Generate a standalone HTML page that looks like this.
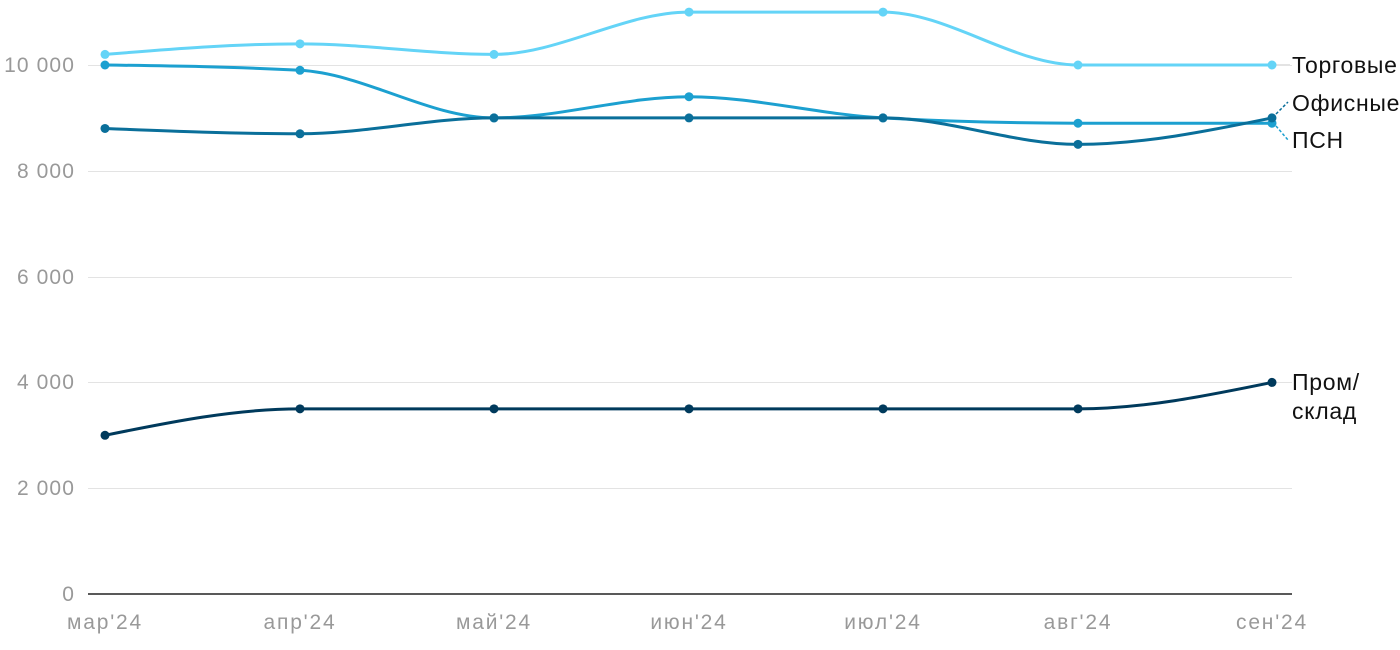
<!DOCTYPE html>
<html><head><meta charset="utf-8"><style>
html,body{margin:0;padding:0;background:#fff;width:1400px;height:650px;overflow:hidden}
text{font-family:"Liberation Sans",sans-serif}
</style></head><body>
<svg id="s" width="1400" height="650" xmlns="http://www.w3.org/2000/svg">
<g stroke="#e3e3e3" stroke-width="1">
<line x1="88" x2="1292" y1="65.5" y2="65.5"/>
<line x1="88" x2="1292" y1="171.5" y2="171.5"/>
<line x1="88" x2="1292" y1="277.5" y2="277.5"/>
<line x1="88" x2="1292" y1="382.5" y2="382.5"/>
<line x1="88" x2="1292" y1="488.5" y2="488.5"/>
</g>
<line x1="88" x2="1292" y1="594" y2="594" stroke="#222" stroke-width="1.5"/>
<g fill="#999" font-size="21" letter-spacing="1.1" text-anchor="end">
<text x="75" y="72">10 000</text>
<text x="75" y="178">8 000</text>
<text x="75" y="284">6 000</text>
<text x="75" y="389">4 000</text>
<text x="75" y="495">2 000</text>
<text x="75" y="601">0</text>
</g>
<g fill="#999" font-size="21" letter-spacing="1.8" text-anchor="middle">
<text x="105" y="629">мар'24</text>
<text x="300" y="629">апр'24</text>
<text x="494" y="629">май'24</text>
<text x="689" y="629">июн'24</text>
<text x="883" y="629">июл'24</text>
<text x="1078" y="629">авг'24</text>
<text x="1272" y="629">сен'24</text>
</g>
<g fill="#111" font-size="23" letter-spacing="0.7">
<text x="1292" y="73">Торговые</text>
<text x="1292" y="111">Офисные</text>
<text x="1292" y="148">ПСН</text>
<text x="1292" y="390">Пром/</text>
<text x="1292" y="419">склад</text>
</g>
<line x1="1276" y1="65" x2="1290" y2="65" stroke="#e3e3e3" stroke-width="2"/>
<path d="M1276 114 L1288 102" stroke="#0a6f9a" stroke-width="1.5" stroke-dasharray="3,2" fill="none"/>
<path d="M1276 126 L1288 140" stroke="#1ca0d0" stroke-width="1.5" stroke-dasharray="3,2" fill="none"/>
<g id="g"></g>
</svg>
<script>
var X=[105,300,494,689,883,1078,1272];
function Y(v){return 594-v*0.0529;}
var S=[
 {c:"#64d4f7",d:[10200,10400,10200,11000,11000,10000,10000]},
 {c:"#1ca0d0",d:[10000,9900,9000,9400,9000,8900,8900]},
 {c:"#0a6f9a",d:[8800,8700,9000,9000,9000,8500,9000]},
 {c:"#003a5c",d:[3000,3500,3500,3500,3500,3500,4000]}
];
function mono(xs,ys){
 var n=xs.length,dx=[],m=[],t=[];
 for(var i=0;i<n-1;i++){dx[i]=xs[i+1]-xs[i];m[i]=(ys[i+1]-ys[i])/dx[i];}
 for(var i=1;i<n-1;i++){
  if(m[i-1]*m[i]<=0)t[i]=0;
  else{var p=(m[i-1]*dx[i]+m[i]*dx[i-1])/(dx[i-1]+dx[i]);
   t[i]=(Math.sign(m[i-1])+Math.sign(m[i]))*Math.min(Math.abs(m[i-1]),Math.abs(m[i]),0.5*Math.abs(p));}
 }
 function end(t1,mm){return (3*mm-t1)/2;}
 t[0]=end(t[1],m[0]);t[n-1]=end(t[n-2],m[n-2]);
 var d="M"+xs[0]+" "+ys[0];
 for(var i=0;i<n-1;i++){var h=dx[i]/3;
  d+=" C"+(xs[i]+h)+" "+(ys[i]+t[i]*h)+" "+(xs[i+1]-h)+" "+(ys[i+1]-t[i+1]*h)+" "+xs[i+1]+" "+ys[i+1];}
 return d;
}
var g=document.getElementById("g"),h="";
S.forEach(function(s){
 var ys=s.d.map(Y);
 h+='<path d="'+mono(X,ys)+'" fill="none" stroke="'+s.c+'" stroke-width="3"/>';
 ys.forEach(function(y,i){h+='<circle cx="'+X[i]+'" cy="'+y+'" r="4.5" fill="'+s.c+'"/>';});
});
g.innerHTML=h;
</script>
</body></html>
